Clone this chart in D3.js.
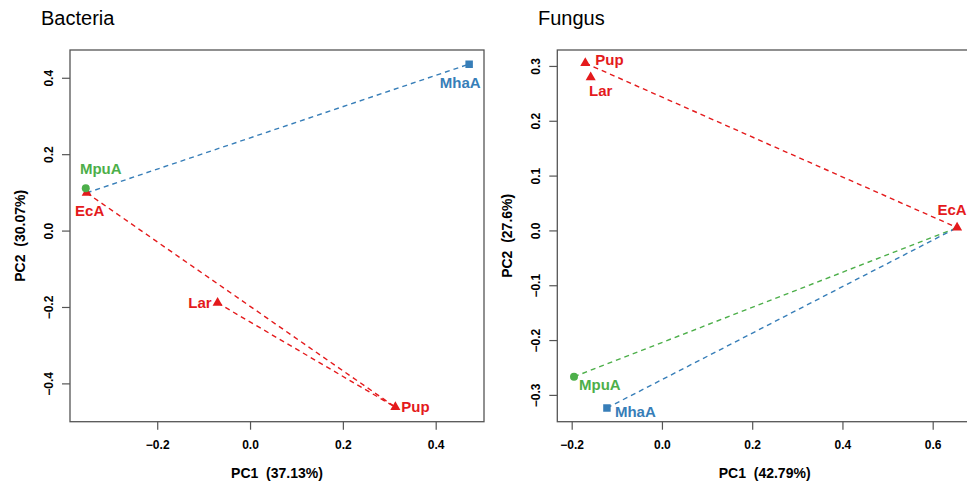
<!DOCTYPE html>
<html>
<head>
<meta charset="utf-8">
<script src="https://cdn.jsdelivr.net/npm/d3@7"></script>
<style>
  body { margin: 0; background: #fff; }
  svg { font-family: "Liberation Sans", Arial, sans-serif; }
  .tick-label { font-size: 12px; font-weight: bold; fill: #000; }
  .axis-title { font-size: 14px; font-weight: bold; fill: #000; white-space: pre; }
  .panel-title { font-size: 20px; fill: #000; }
  .pt-label { font-size: 15px; font-weight: bold; }
</style>
</head>
<body>
<div id="draw-space"></div>
<script>
// sample names and their group
const samples = ['EcA', 'MpuA', 'MhaA', 'Lar', 'Pup'];
const groups = ['adult', 'mpu', 'mha', 'young', 'young'];

// Bacteria PCoA scores
const bacPC1 = [-0.353, -0.355, 0.471, -0.071, 0.312];
const bacPC2 = [0.100, 0.112, 0.437, -0.188, -0.461];
const bacLinks = [['EcA', 'MhaA', 'mha'], ['EcA', 'Pup', 'young'], ['Lar', 'Pup', 'young']];
const bacXTicks = [-0.2, 0.0, 0.2, 0.4];
const bacYTicks = [-0.4, -0.2, 0.0, 0.2, 0.4];

// Fungus PCoA scores
const funPC1 = [0.653, -0.196, -0.123, -0.159, -0.171];
const funPC2 = [0.006, -0.266, -0.323, 0.280, 0.306];
const funLinks = [['Pup', 'EcA', 'young'], ['MpuA', 'EcA', 'mpu'], ['MhaA', 'EcA', 'mha']];
const funXTicks = [-0.2, 0.0, 0.2, 0.4, 0.6];
const funYTicks = [-0.3, -0.2, -0.1, 0.0, 0.1, 0.2, 0.3];

const color = d3.scaleOrdinal()
                .domain(['adult', 'young', 'mpu', 'mha'])
                .range(['#e41a1c', '#e41a1c', '#4daf4a', '#377eb8']);
const shape = {adult: d3.symbolTriangle, young: d3.symbolTriangle, mpu: d3.symbolCircle, mha: d3.symbolSquare};
const shapeSize = {adult: 44, young: 44, mpu: 50, mha: 56};

const svg = d3.select('#draw-space').append('svg')
              .attr('width', 967)
              .attr('height', 483);

const fmt = v => (v < 0 ? '\u2212' : '') + d3.format('.1f')(Math.abs(v));

function panel(cfg) {
  const x = d3.scaleLinear().domain(cfg.xDomain).range([cfg.left, cfg.right]);
  const y = d3.scaleLinear().domain(cfg.yDomain).range([cfg.bottom, cfg.top]);
  const g = svg.append('g');

  const clipId = 'clip-' + cfg.title;
  g.append('clipPath').attr('id', clipId)
   .append('rect')
   .attr('x', cfg.left).attr('y', cfg.top)
   .attr('width', cfg.right - cfg.left).attr('height', cfg.bottom - cfg.top);

  g.append('rect')
   .attr('x', cfg.left).attr('y', cfg.top)
   .attr('width', cfg.right - cfg.left).attr('height', cfg.bottom - cfg.top)
   .attr('fill', 'none').attr('stroke', '#555').attr('stroke-width', 1.3);

  // ticks
  g.selectAll('.xtick').data(cfg.xTicks).enter()
   .append('line')
   .attr('x1', d => x(d)).attr('x2', d => x(d))
   .attr('y1', cfg.bottom).attr('y2', cfg.bottom + 8)
   .attr('stroke', '#555').attr('stroke-width', 1.2);
  g.selectAll('.xlab').data(cfg.xTicks).enter()
   .append('text').attr('class', 'tick-label')
   .attr('x', d => x(d)).attr('y', cfg.bottom + 27)
   .attr('text-anchor', 'middle')
   .text(fmt);

  g.selectAll('.ytick').data(cfg.yTicks).enter()
   .append('line')
   .attr('x1', cfg.left - 8).attr('x2', cfg.left)
   .attr('y1', d => y(d)).attr('y2', d => y(d))
   .attr('stroke', '#555').attr('stroke-width', 1.2);
  g.selectAll('.ylab').data(cfg.yTicks).enter()
   .append('text').attr('class', 'tick-label')
   .attr('transform', d => `translate(${cfg.left - 17},${y(d)}) rotate(-90)`)
   .attr('text-anchor', 'middle')
   .text(fmt);

  g.append('text').attr('class', 'axis-title')
   .attr('x', (cfg.left + cfg.right) / 2).attr('y', cfg.bottom + 56)
   .attr('text-anchor', 'middle')
   .text(cfg.xTitle);
  g.append('text').attr('class', 'axis-title')
   .attr('transform', `translate(${cfg.yTitleX},${(cfg.top + cfg.bottom) / 2}) rotate(-90)`)
   .attr('text-anchor', 'middle')
   .text(cfg.yTitle);

  g.append('text').attr('class', 'panel-title')
   .attr('x', cfg.titleX).attr('y', 25)
   .text(cfg.title);

  const pts = samples.map((s, i) => ({name: s, group: groups[i], px: cfg.pc1[i], py: cfg.pc2[i]}));
  const byName = {};
  pts.forEach(p => byName[p.name] = p);

  const plot = g.append('g').attr('clip-path', `url(#${clipId})`);

  plot.selectAll('.link').data(cfg.links).enter()
      .append('line')
      .attr('x1', d => x(byName[d[0]].px)).attr('y1', d => y(byName[d[0]].py))
      .attr('x2', d => x(byName[d[1]].px)).attr('y2', d => y(byName[d[1]].py))
      .attr('stroke', d => color(d[2]))
      .attr('stroke-width', 1.4)
      .attr('stroke-dasharray', '5,4');

  plot.selectAll('.pt').data(pts).enter()
      .append('path')
      .attr('transform', d => `translate(${x(d.px)},${y(d.py)})`)
      .attr('d', d => d3.symbol().type(shape[d.group]).size(shapeSize[d.group])())
      .attr('fill', d => color(d.group));

  g.selectAll('.pt-label').data(pts).enter()
   .append('text').attr('class', 'pt-label')
   .attr('x', d => x(d.px) + cfg.labels[d.name][0])
   .attr('y', d => y(d.py) + cfg.labels[d.name][1])
   .attr('text-anchor', d => cfg.labels[d.name][2])
   .attr('fill', d => color(d.group))
   .text(d => d.name);
}

panel({
  title: 'Bacteria', titleX: 41,
  left: 70, right: 484, top: 50, bottom: 421.7,
  xDomain: [-0.389, 0.503], yDomain: [-0.499, 0.474],
  xTicks: bacXTicks, yTicks: bacYTicks,
  pc1: bacPC1, pc2: bacPC2, links: bacLinks,
  xTitle: 'PC1  (37.13%)', yTitle: 'PC2  (30.07%)', yTitleX: 25,
  labels: {
    MhaA: [-9, 24, 'middle'], MpuA: [15, -14, 'middle'], EcA: [3, 23, 'middle'],
    Lar: [-6, 5, 'end'], Pup: [6, 5, 'start']
  }
});

panel({
  title: 'Fungus', titleX: 538,
  left: 557.3, right: 972, top: 50, bottom: 421.7,
  xDomain: [-0.233, 0.686], yDomain: [-0.348, 0.330],
  xTicks: funXTicks, yTicks: funYTicks,
  pc1: funPC1, pc2: funPC2, links: funLinks,
  xTitle: 'PC1  (42.79%)', yTitle: 'PC2  (27.6%)', yTitleX: 512,
  labels: {
    Pup: [10, 2, 'start'], Lar: [10, 19, 'middle'], EcA: [-5, -13, 'middle'],
    MpuA: [5, 13, 'start'], MhaA: [8, 9, 'start']
  }
});
</script>
</body>
</html>
